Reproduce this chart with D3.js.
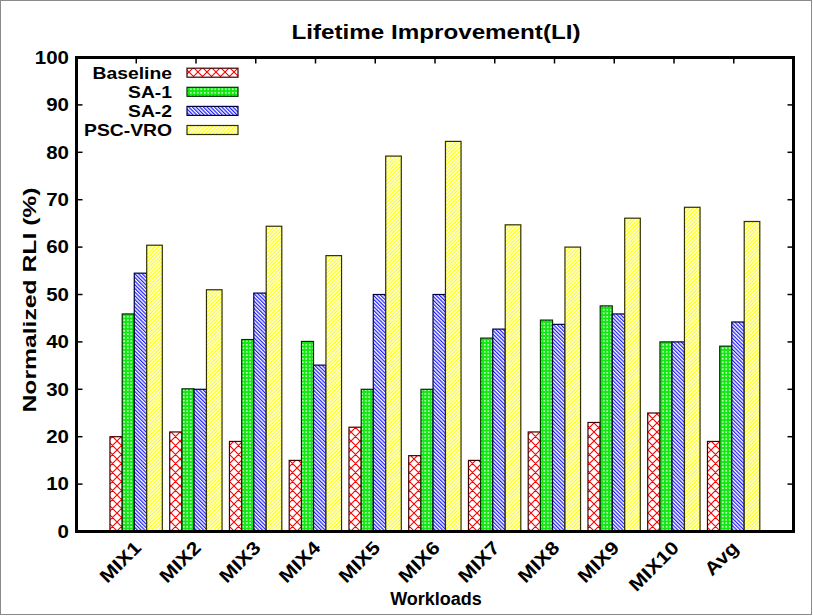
<!DOCTYPE html>
<html>
<head>
<meta charset="utf-8">
<script src="https://cdn.jsdelivr.net/npm/d3@7/dist/d3.min.js"></script>
<style>
  html, body { margin: 0; padding: 0; background: #fff; }
  svg text { font-family: "Liberation Sans", Arial, Helvetica, sans-serif; font-weight: bold; fill: #000; }
</style>
</head>
<body>
<svg id="chart" width="813" height="616"></svg>
<script>
// Workload groups on the x axis
const workloads = ["MIX1", "MIX2", "MIX3", "MIX4", "MIX5", "MIX6", "MIX7", "MIX8", "MIX9", "MIX10", "Avg"];

// Normalized RLI (%) per scheme
const seriesNames = ["Baseline", "SA-1", "SA-2", "PSC-VRO"];
const baseline = [20, 21, 19, 15, 22, 16, 15, 21, 23, 25, 19];
const sa1      = [45.9, 30.1, 40.5, 40.1, 30, 30, 40.8, 44.6, 47.6, 40, 39.1];
const sa2      = [54.5, 30, 50.3, 35.1, 50, 50, 42.7, 43.7, 45.9, 40, 44.2];
const pscVro   = [60.4, 51, 64.4, 58.2, 79.2, 82.3, 64.7, 60, 66.1, 68.4, 65.4];

const yTicks = [0, 10, 20, 30, 40, 50, 60, 70, 80, 90, 100];

const series = [baseline, sa1, sa2, pscVro];

const svg = d3.select("#chart");
const W = 813, H = 616;
const plot = { left: 76.5, right: 793.5, top: 57.5, bottom: 531.5 };

const x = d3.scaleLinear().domain([-1, workloads.length]).range([plot.left, plot.right]);
const y = d3.scaleLinear().domain([0, 100]).range([plot.bottom, plot.top]);

// bar edges within a cluster, in x-axis units around the group centre
const barEdges = [-0.44, -0.235, -0.033, 0.175, 0.436];

// ---- fill patterns ----
const defs = svg.append("defs");

const pRed = defs.append("pattern").attr("id", "pat0")
  .attr("patternUnits", "userSpaceOnUse").attr("width", 9).attr("height", 9);
pRed.append("rect").attr("width", 9).attr("height", 9).attr("fill", "#fff");
pRed.append("path").attr("d", "M0,0L9,9M9,0L0,9M-1,8L1,10M8,-1L10,1")
  .attr("stroke", "#ff0000").attr("stroke-width", 1.1).attr("fill", "none");

const pGreen = defs.append("pattern").attr("id", "pat1")
  .attr("patternUnits", "userSpaceOnUse").attr("width", 3.5).attr("height", 3.5);
pGreen.append("rect").attr("width", 3.5).attr("height", 3.5).attr("fill", "#10e810");
pGreen.append("rect").attr("x", 1).attr("y", 1).attr("width", 1.5).attr("height", 1.5).attr("fill", "#fff");

const pBlue = defs.append("pattern").attr("id", "pat2")
  .attr("patternUnits", "userSpaceOnUse").attr("width", 2.6).attr("height", 10)
  .attr("patternTransform", "rotate(-45)");
pBlue.append("rect").attr("width", 2.6).attr("height", 10).attr("fill", "#fff");
pBlue.append("rect").attr("width", 1.2).attr("height", 10).attr("fill", "#1a1aff");

const pYellow = defs.append("pattern").attr("id", "pat3")
  .attr("patternUnits", "userSpaceOnUse").attr("width", 2.6).attr("height", 10)
  .attr("patternTransform", "rotate(45)");
pYellow.append("rect").attr("width", 2.6).attr("height", 10).attr("fill", "#fff");
pYellow.append("rect").attr("width", 1.2).attr("height", 10).attr("fill", "#ffff00");

const strokeColors = ["#400000", "#003000", "#000040", "#303000"];

// stretch text horizontally to the wide bold face used in the chart
function stretch(sel, k) {
  sel.each(function () {
    const w = this.getComputedTextLength();
    this.setAttribute("textLength", (w * k).toFixed(2));
    this.setAttribute("lengthAdjust", "spacingAndGlyphs");
  });
}

// outer border
svg.append("rect").attr("x", 0.5).attr("y", 0.5).attr("width", W - 2).attr("height", H - 2)
  .attr("fill", "#fff").attr("stroke", "#8a8a8a").attr("stroke-width", 1);

// title
const title = svg.append("text").attr("x", 436).attr("y", 39).attr("text-anchor", "middle")
  .attr("font-size", 20).text("Lifetime Improvement(LI)");
stretch(title, 1.21);

// ticks (inward, mirrored)
const tickLen = 6;
const g = svg.append("g");
g.selectAll("line.yl").data(yTicks).join("line")
  .attr("x1", plot.left).attr("x2", plot.left + tickLen)
  .attr("y1", d => y(d)).attr("y2", d => y(d)).attr("stroke", "#000").attr("stroke-width", 1.5);
g.selectAll("line.yr").data(yTicks).join("line").attr("class", "yr")
  .attr("x1", plot.right).attr("x2", plot.right - tickLen)
  .attr("y1", d => y(d)).attr("y2", d => y(d)).attr("stroke", "#000").attr("stroke-width", 1.5);
g.selectAll("line.xt").data(workloads).join("line").attr("class", "xt")
  .attr("x1", (d, i) => x(i)).attr("x2", (d, i) => x(i))
  .attr("y1", plot.top).attr("y2", plot.top + tickLen).attr("stroke", "#000").attr("stroke-width", 1.5);
g.selectAll("line.xb").data(workloads).join("line").attr("class", "xb")
  .attr("x1", (d, i) => x(i)).attr("x2", (d, i) => x(i))
  .attr("y1", plot.bottom).attr("y2", plot.bottom - tickLen).attr("stroke", "#000").attr("stroke-width", 1.5);

// y tick labels
const yl = svg.append("g").selectAll("text").data(yTicks).join("text")
  .attr("x", 69).attr("y", d => y(d)).attr("dy", "0.36em").attr("text-anchor", "end")
  .attr("font-size", 17.5).text(d => d);
stretch(yl, 1.17);

// y axis title
const yt = svg.append("text").attr("transform", "translate(36,300) rotate(-90)")
  .attr("text-anchor", "middle").attr("font-size", 19).text("Normalized RLI (%)");
stretch(yt, 1.3);

// bars
series.forEach((vals, s) => {
  svg.append("g").selectAll("rect").data(vals).join("rect")
    .attr("x", (d, i) => x(i + barEdges[s]))
    .attr("width", (d, i) => x(i + barEdges[s + 1]) - x(i + barEdges[s]))
    .attr("y", d => y(d))
    .attr("height", d => y(0) - y(d))
    .attr("fill", `url(#pat${s})`)
    .attr("stroke", strokeColors[s]).attr("stroke-width", 1.2);
});

// frame
svg.append("rect").attr("x", plot.left).attr("y", plot.top)
  .attr("width", plot.right - plot.left).attr("height", plot.bottom - plot.top)
  .attr("fill", "none").attr("stroke", "#000").attr("stroke-width", 3);

// x tick labels, rotated
const xl = svg.append("g").selectAll("text").data(workloads).join("text")
  .attr("transform", (d, i) => `translate(${x(i) + 6},549) rotate(-45)`)
  .attr("text-anchor", "end").attr("font-size", 18.5).text(d => d);
stretch(xl, 1.15);

// x axis title
svg.append("text").attr("x", 436).attr("y", 605).attr("text-anchor", "middle")
  .attr("font-size", 18).text("Workloads");

// legend
const legend = svg.append("g");
seriesNames.forEach((name, s) => {
  const cy = 72.7 + s * 19.1;
  const t = legend.append("text").attr("x", 172).attr("y", cy).attr("dy", "0.36em")
    .attr("text-anchor", "end").attr("font-size", 16.5).text(name);
  stretch(t, 1.17);
  legend.append("rect").attr("x", 187).attr("y", cy - 4.5).attr("width", 51).attr("height", 9)
    .attr("fill", `url(#pat${s})`).attr("stroke", strokeColors[s]).attr("stroke-width", 1.2);
});
</script>
</body>
</html>
